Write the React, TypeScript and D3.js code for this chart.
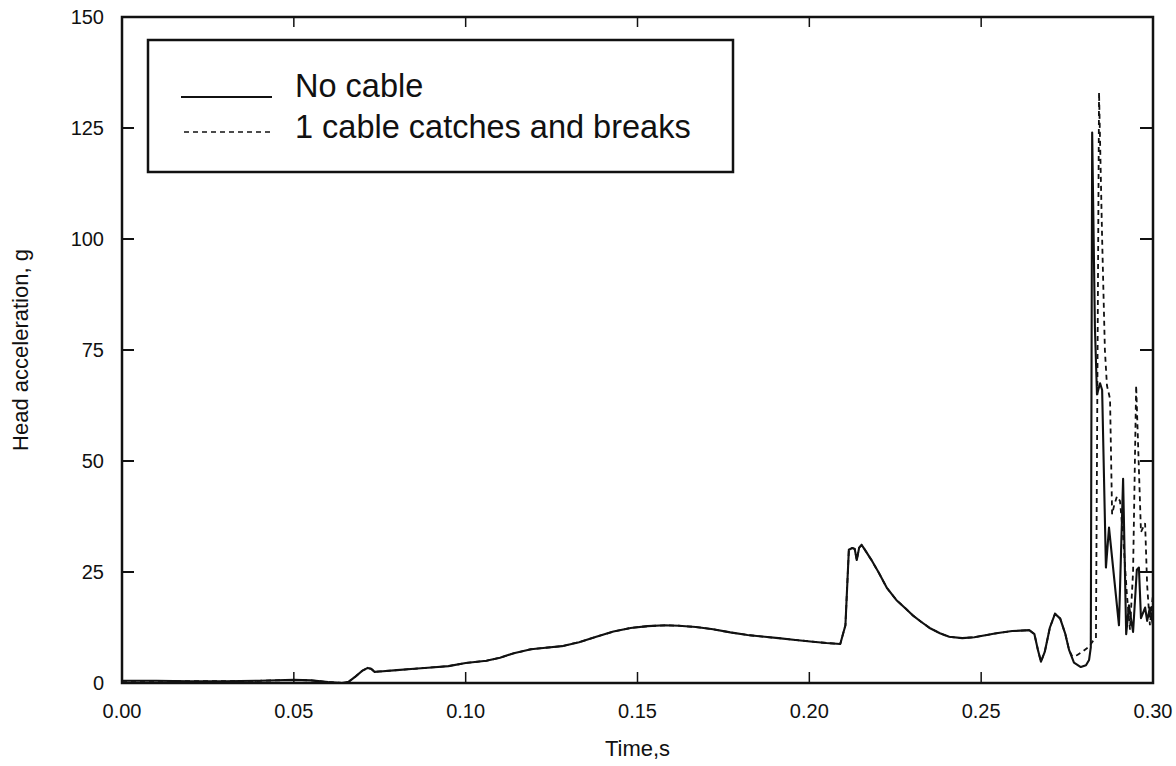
import React from "react";
import * as d3 from "d3";

// ---- data (time in s, head acceleration in g) ----
const commonTime = [
  0.0, 0.01, 0.02, 0.03, 0.04, 0.05, 0.055, 0.06, 0.064, 0.066, 0.068, 0.07, 0.0715, 0.0725, 0.0735,
  0.075, 0.08, 0.085, 0.09, 0.095, 0.1, 0.106, 0.11, 0.114, 0.119, 0.124, 0.128, 0.133, 0.138, 0.143,
  0.148, 0.153, 0.158, 0.162, 0.167, 0.172, 0.177, 0.182, 0.187, 0.191, 0.196, 0.201, 0.205, 0.209,
  0.2105, 0.2115, 0.2125, 0.2132, 0.2138, 0.2145, 0.2152, 0.216, 0.218, 0.2203, 0.2225, 0.2253, 0.228,
  0.23, 0.2325, 0.235, 0.238, 0.2407, 0.2445, 0.248, 0.2544, 0.259, 0.264, 0.2655, 0.2665, 0.2674,
  0.2685, 0.27, 0.2715, 0.273, 0.2745, 0.2756,
];
const commonValue = [
  0.5, 0.5, 0.4, 0.4, 0.5, 0.7, 0.6, 0.2, 0.0, 0.3, 1.5, 2.8, 3.4, 3.2, 2.5,
  2.6, 2.9, 3.2, 3.5, 3.8, 4.5, 5.0, 5.7, 6.7, 7.6, 8.0, 8.3, 9.2, 10.4, 11.6,
  12.4, 12.8, 13.0, 12.9, 12.6, 12.1, 11.4, 10.8, 10.4, 10.1, 9.7, 9.3, 9.0, 8.8,
  13, 30, 30.4, 30.2, 27.7, 30.5, 31.1, 30.2, 27.8, 24.7, 21.5, 18.7, 16.8,
  15.3, 13.8, 12.4, 11.2, 10.4, 10.1, 10.3, 11.2, 11.7, 11.9, 11.0, 7.5, 4.8,
  7, 12.5, 15.6, 14.5, 11, 7.4,
];

const noCableTime = [
  0.277, 0.279, 0.2805, 0.2814, 0.2819, 0.2823, 0.2831, 0.2837, 0.2846, 0.2852, 0.2863, 0.2872,
  0.2901, 0.2913, 0.2922, 0.293, 0.2942, 0.2953, 0.2959, 0.2965, 0.2977, 0.2983, 0.2991, 0.3,
];
const noCableValue = [
  4.6, 3.6, 4.0, 5.2, 8, 124, 80, 65, 67.5, 66, 26, 35,
  13, 46, 11, 17.5, 11.5, 25.5, 26, 14.6, 17, 14, 17, 13,
];

const cableTime = [
  0.2765, 0.278, 0.2797, 0.2814, 0.2826, 0.2834, 0.2843, 0.2852, 0.286, 0.2866, 0.2875, 0.2881,
  0.2887, 0.2895, 0.2904, 0.2913, 0.2924, 0.2933, 0.2942, 0.2951, 0.2965, 0.2977, 0.2983, 0.2991, 0.3,
];
const cableValue = [
  6.0, 6.3, 7.2, 8.2, 9.5, 10, 133, 100, 75, 67, 64, 38,
  40, 42, 41, 33, 20, 12, 25, 67, 34, 36, 22, 13, 20,
];

const xTicks = [0.0, 0.05, 0.1, 0.15, 0.2, 0.25, 0.3];
const yTicks = [0, 25, 50, 75, 100, 125, 150];
const legendLabels = ["No cable", "1 cable catches and breaks"];

const W = 1176;
const H = 766;
const FONT = "'Liberation Sans', Arial, Helvetica, sans-serif";

export default function App() {
  const x = d3.scaleLinear().domain([0, 0.3]).range([122, 1153]);
  const y = d3.scaleLinear().domain([0, 150]).range([683, 17]);

  const noCable = [
    ...commonTime.map((t, i) => [t, commonValue[i]]),
    ...noCableTime.map((t, i) => [t, noCableValue[i]]),
  ] as [number, number][];
  const cable = [
    ...commonTime.map((t, i) => [t, commonValue[i]]),
    ...cableTime.map((t, i) => [t, cableValue[i]]),
  ] as [number, number][];

  const line = d3
    .line<[number, number]>()
    .x((d) => x(d[0]))
    .y((d) => y(d[1]))
    .curve(d3.curveLinear);

  const [x0, x1] = x.range();
  const [y0, y1] = y.range();

  return (
    <svg
      width={W}
      height={H}
      style={{ position: "absolute", left: 0, top: 0, background: "#fff" }}
      fontFamily={FONT}
    >
      <rect x={0} y={0} width={W} height={H} fill="#fff" />
      {/* data */}
      <path d={line(cable) || ""} fill="none" stroke="#111" strokeWidth={1.8} strokeDasharray="5,4" />
      <path d={line(noCable) || ""} fill="none" stroke="#111" strokeWidth={2.1} strokeLinejoin="round" />

      {/* frame */}
      <rect x={x0} y={y1} width={x1 - x0} height={y0 - y1} fill="none" stroke="#111" strokeWidth={2.5} />

      {/* ticks */}
      {yTicks.slice(1, -1).map((v) => (
        <g key={"yt" + v}>
          <line x1={x0} x2={x0 + 12} y1={y(v)} y2={y(v)} stroke="#111" strokeWidth={2} />
          <line x1={x1} x2={x1 - 13} y1={y(v)} y2={y(v)} stroke="#111" strokeWidth={2} />
        </g>
      ))}
      {xTicks.slice(1, -1).map((t) => (
        <g key={"xt" + t}>
          <line x1={x(t)} x2={x(t)} y1={y0} y2={y0 - 11} stroke="#111" strokeWidth={1.5} />
          <line x1={x(t)} x2={x(t)} y1={y1} y2={y1 + 10} stroke="#111" strokeWidth={1.5} />
        </g>
      ))}

      {/* tick labels */}
      {yTicks.map((v) => (
        <text key={"yl" + v} x={104} y={y(v)} dy="0.35em" textAnchor="end" fontSize={20} fill="#111">
          {v}
        </text>
      ))}
      {xTicks.map((t) => (
        <text key={"xl" + t} x={x(t)} y={718} textAnchor="middle" fontSize={20} fill="#111">
          {t.toFixed(2)}
        </text>
      ))}

      {/* axis titles */}
      <text x={(x0 + x1) / 2} y={756} textAnchor="middle" fontSize={22} fill="#111">
        Time,s
      </text>
      <text
        transform={`translate(28, ${(y0 + y1) / 2}) rotate(-90)`}
        textAnchor="middle"
        fontSize={22}
        fill="#111"
      >
        Head acceleration, g
      </text>

      {/* legend */}
      <rect x={148} y={40} width={585} height={132} fill="#fff" stroke="#111" strokeWidth={2.5} />
      <line x1={181} x2={272} y1={97} y2={97} stroke="#111" strokeWidth={2} />
      <line x1={184} x2={272} y1={132} y2={132} stroke="#111" strokeWidth={1.5} strokeDasharray="5,4" />
      <text x={295} y={97} fontSize={32.5} fill="#111">
        {legendLabels[0]}
      </text>
      <text x={295} y={138} fontSize={32.5} fill="#111">
        {legendLabels[1]}
      </text>
    </svg>
  );
}
